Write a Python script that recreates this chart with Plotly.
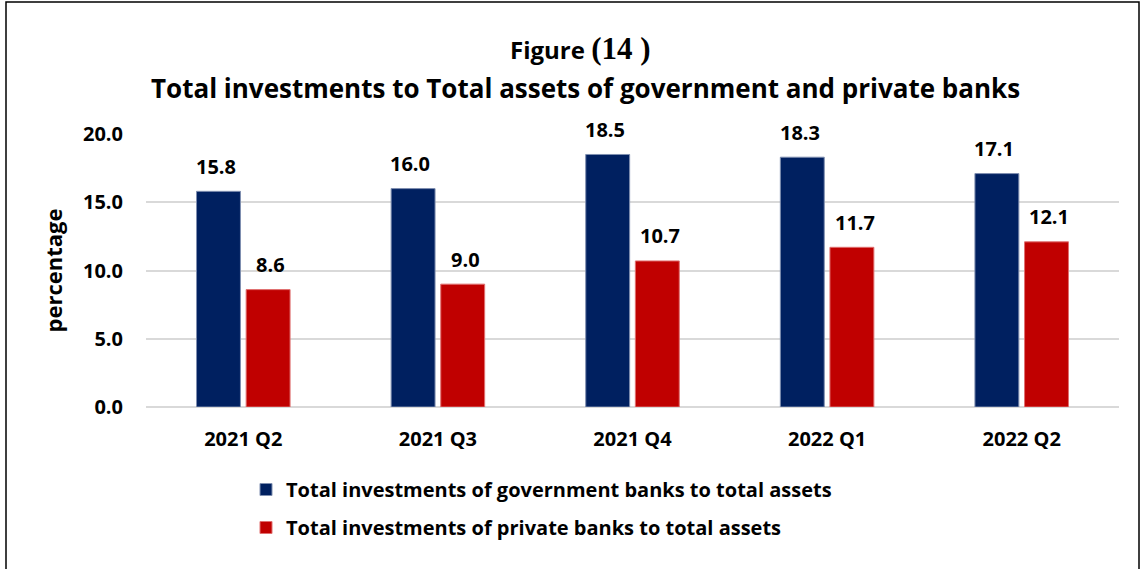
import plotly.graph_objects as go

# Quarterly ratios (%) of total investments to total assets
quarters = ["2021 Q2", "2021 Q3", "2021 Q4", "2022 Q1", "2022 Q2"]
government_banks = [15.8, 16.0, 18.5, 18.3, 17.1]
private_banks = [8.6, 9.0, 10.7, 11.7, 12.1]

gov_name = "Total investments of government banks to total assets"
priv_name = "Total investments of private banks to total assets"

y_ticks = [0, 5, 10, 15, 20]

FONT = "Open Sans"
NAVY = "#002060"
RED = "#C00000"

W, H = 1141, 569
L, R, T, B = 146, 22, 134, 162
plot_w = W - L - R
plot_h = H - T - B


def px_x(p):
    return (p - L) / plot_w


def px_y(p):
    return (H - B - p) / plot_h


fig = go.Figure()
fig.add_trace(go.Bar(
    x=quarters, y=government_banks, name=gov_name,
    marker=dict(color=NAVY, line=dict(color="#7F8FB0", width=1)),
    legendgroup="g", hoverinfo="y",
))
fig.add_trace(go.Bar(
    x=quarters, y=private_banks, name=priv_name,
    marker=dict(color=RED, line=dict(color="#E07070", width=1)),
    legendgroup="p", hoverinfo="y",
))

# value labels above each bar
label_font = dict(family=FONT, size=20, color="black", weight="bold")
for q, v in zip(quarters, government_banks):
    fig.add_annotation(x=q, y=v, text=f"{v:.1f}", showarrow=False,
                       xshift=-27.5, yshift=25, yanchor="middle", font=label_font)
for q, v in zip(quarters, private_banks):
    fig.add_annotation(x=q, y=v, text=f"{v:.1f}", showarrow=False,
                       xshift=27.5, yshift=25, yanchor="middle", font=label_font)

# two-line heading
fig.add_annotation(
    xref="paper", yref="paper", x=px_x(580), y=px_y(48),
    text="Figure <span style='font-family:Liberation Serif;font-size:31px'>(14 )</span>",
    showarrow=False, xanchor="center", yanchor="middle",
    font=dict(family=FONT, size=24, color="black", weight="bold"),
)
fig.add_annotation(
    xref="paper", yref="paper", x=px_x(585), y=px_y(88),
    text="Total investments to Total assets of government and private banks",
    showarrow=False, xanchor="center", yanchor="middle",
    font=dict(family=FONT, size=26, color="black", weight="bold"),
)

# outer frame
fig.add_shape(type="rect", xref="paper", yref="paper",
              x0=px_x(6), x1=px_x(1139), y0=px_y(600), y1=px_y(2),
              line=dict(color="black", width=1.5), layer="above")

fig.update_layout(
    width=W, height=H,
    margin=dict(l=L, r=R, t=T, b=B, pad=0),
    paper_bgcolor="white", plot_bgcolor="white",
    barmode="group", bargap=0.49, bargroupgap=0.115,
    font=dict(family=FONT, size=20, color="black"),
    showlegend=True,
    legend=dict(
        orientation="v", x=px_x(246), y=px_y(470),
        xanchor="left", yanchor="top",
        traceorder="grouped", tracegroupgap=9,
        font=dict(family=FONT, size=20, color="black", weight="bold"),
        bgcolor="rgba(0,0,0,0)",
    ),
    xaxis=dict(
        showgrid=False, showline=False, zeroline=False,
        ticks="", ticklabelstandoff=18,
        tickfont=dict(family=FONT, size=20, color="black", weight="bold"),
    ),
    yaxis=dict(
        range=[0, 20], tickvals=y_ticks, ticktext=[f"{t:.1f}" for t in y_ticks],
        showgrid=True, gridcolor="#D9D9D9", gridwidth=1.5,
        zeroline=True, zerolinecolor="#D9D9D9", zerolinewidth=1.5,
        showline=False, ticks="", ticklabelstandoff=22,
        tickfont=dict(family=FONT, size=20, color="black", weight="bold"),
        title=dict(text="percentage", standoff=14,
                   font=dict(family=FONT, size=22, color="black", weight="bold")),
    ),
)

fig.write_html("out.html")
